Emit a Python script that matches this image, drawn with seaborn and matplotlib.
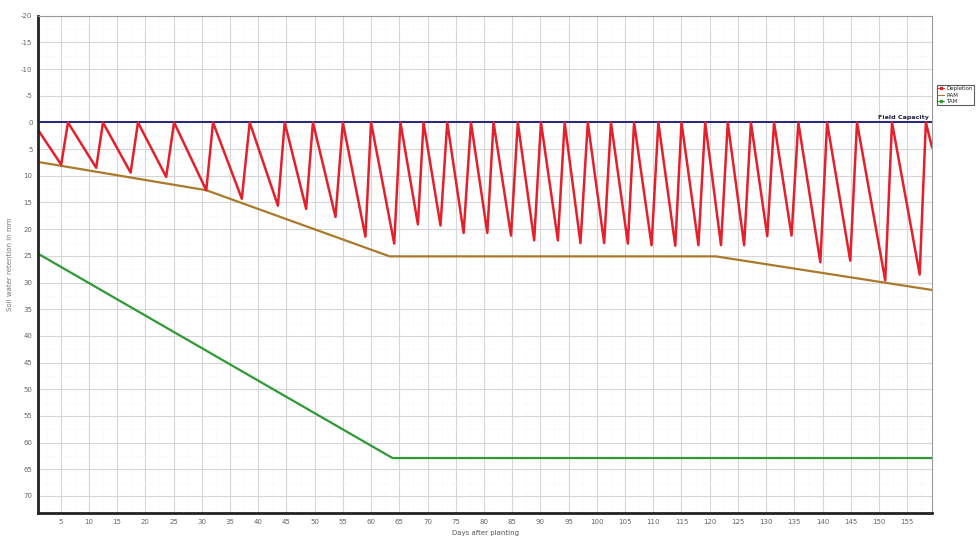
import pandas as pd
import matplotlib.pyplot as plt
import seaborn as sns
from matplotlib.lines import Line2D

# Soil water depletion: troughs just before irrigation, 0 after
dep_days = [1, 5.1, 6.3, 11.3, 12.5, 17.4, 18.7, 23.7, 25.1, 30.8, 32, 37.1, 38.5,
            43.5, 44.7, 48.5, 49.7, 53.7, 55, 59, 60, 64.1, 65.2, 68.3, 69.3, 72.3,
            73.5, 76.4, 77.7, 80.6, 81.7, 84.8, 86, 88.9, 90.1, 93.1, 94.3, 97.1,
            98.4, 101.3, 102.5, 105.5, 106.6, 109.7, 110.9, 113.9, 115, 118, 119.2,
            122, 123.2, 126.1, 127.3, 130.2, 131.4, 134.5, 135.7, 139.6, 140.8,
            144.9, 146.1, 151.1, 152.3, 157.2, 158.3, 159.4]
dep_values = [1.4, 7.9, 0, 8.5, 0, 9.4, 0, 10.2, 0, 12.7, 0, 14.3, 0,
              15.6, 0, 16.2, 0, 17.7, 0, 21.4, 0, 22.7, 0, 19.1, 0, 19.3,
              0, 20.7, 0, 20.7, 0, 21.2, 0, 22.1, 0, 22.1, 0, 22.6,
              0, 22.6, 0, 22.7, 0, 23.0, 0, 23.1, 0, 23.0, 0,
              23.0, 0, 23.0, 0, 21.3, 0, 21.2, 0, 26.2, 0,
              25.9, 0, 29.6, 0, 28.5, 0, 4.7]

ram_days = [1, 30.8, 63.3, 121.1, 159.4]
ram_values = [7.4, 12.7, 25.1, 25.1, 31.4]

tam_days = [1, 63.8, 159.4]
tam_values = [24.6, 62.9, 62.9]

fc_days = [1, 159.4]
fc_values = [0, 0]

x_ticks = list(range(5, 160, 5))
y_ticks = list(range(-20, 75, 5))

dep = pd.DataFrame({'day': dep_days, 'mm': dep_values})
ram = pd.DataFrame({'day': ram_days, 'mm': ram_values})
tam = pd.DataFrame({'day': tam_days, 'mm': tam_values})
fc = pd.DataFrame({'day': fc_days, 'mm': fc_values})

sns.set_theme(style="white")
plt.rcParams['font.family'] = ['DejaVu Sans']
plt.rcParams['axes.unicode_minus'] = False

fig = plt.figure(figsize=(9.76, 5.44), dpi=100)
ax = fig.add_axes([0.039, 0.057, 0.916, 0.914])

red = '#e3202b'
brown = '#a97a2c'
green = '#2f9a35'
navy = '#26267a'

sns.lineplot(data=tam, x='day', y='mm', color=green, lw=1.6, sort=False, estimator=None, ax=ax)
sns.lineplot(data=ram, x='day', y='mm', color=brown, lw=1.6, sort=False, estimator=None, ax=ax)
sns.lineplot(data=fc, x='day', y='mm', color=navy, lw=1.4, sort=False, estimator=None, ax=ax)
sns.lineplot(data=dep, x='day', y='mm', color=red, lw=1.8, sort=False, estimator=None, ax=ax)

ax.set_xlim(1, 159.4)
ax.set_ylim(73.2, -20)
ax.set_xticks(x_ticks)
ax.set_yticks(y_ticks)
ax.set_xticks([t + 2.5 for t in [0] + x_ticks], minor=True)
ax.set_yticks([t + 2.5 for t in y_ticks], minor=True)
ax.grid(which='major', color='#d6d6d6', lw=0.8)
ax.grid(which='minor', color='#f1f1f1', lw=0.5, ls=':')
ax.tick_params(which='both', length=0, labelsize=5, labelcolor='#666666', pad=4)

for side in ['left', 'bottom']:
    ax.spines[side].set_color('#222222')
    ax.spines[side].set_linewidth(2)
for side in ['top', 'right']:
    ax.spines[side].set_color('#9a9a9a')
    ax.spines[side].set_linewidth(0.8)

ax.set_xlabel('Days after planting', fontsize=5, color='#555555', labelpad=4)
ax.set_ylabel('Soil water retention in mm', fontsize=5, color='#777777', labelpad=6)

ax.text(158.8, -0.5, 'Field Capacity', ha='right', va='bottom', fontsize=4.6,
        fontweight='bold', color='#222244')

handles = [Line2D([], [], color=red, marker='s', ms=2, lw=0.8),
           Line2D([], [], color=brown, lw=0.8),
           Line2D([], [], color=green, marker='s', ms=2, lw=0.8)]
leg = fig.legend(handles, ['Depletion', 'RAM', 'TAM'], loc='upper left',
                 bbox_to_anchor=(934 / 976, 1 - 82 / 544), fontsize=4,
                 frameon=True, fancybox=False, handlelength=1, handletextpad=0.4,
                 borderpad=0.3, labelspacing=0.2)
leg.get_frame().set_edgecolor('#333333')
leg.get_frame().set_linewidth(0.8)

fig.savefig('out.png', dpi=100)
